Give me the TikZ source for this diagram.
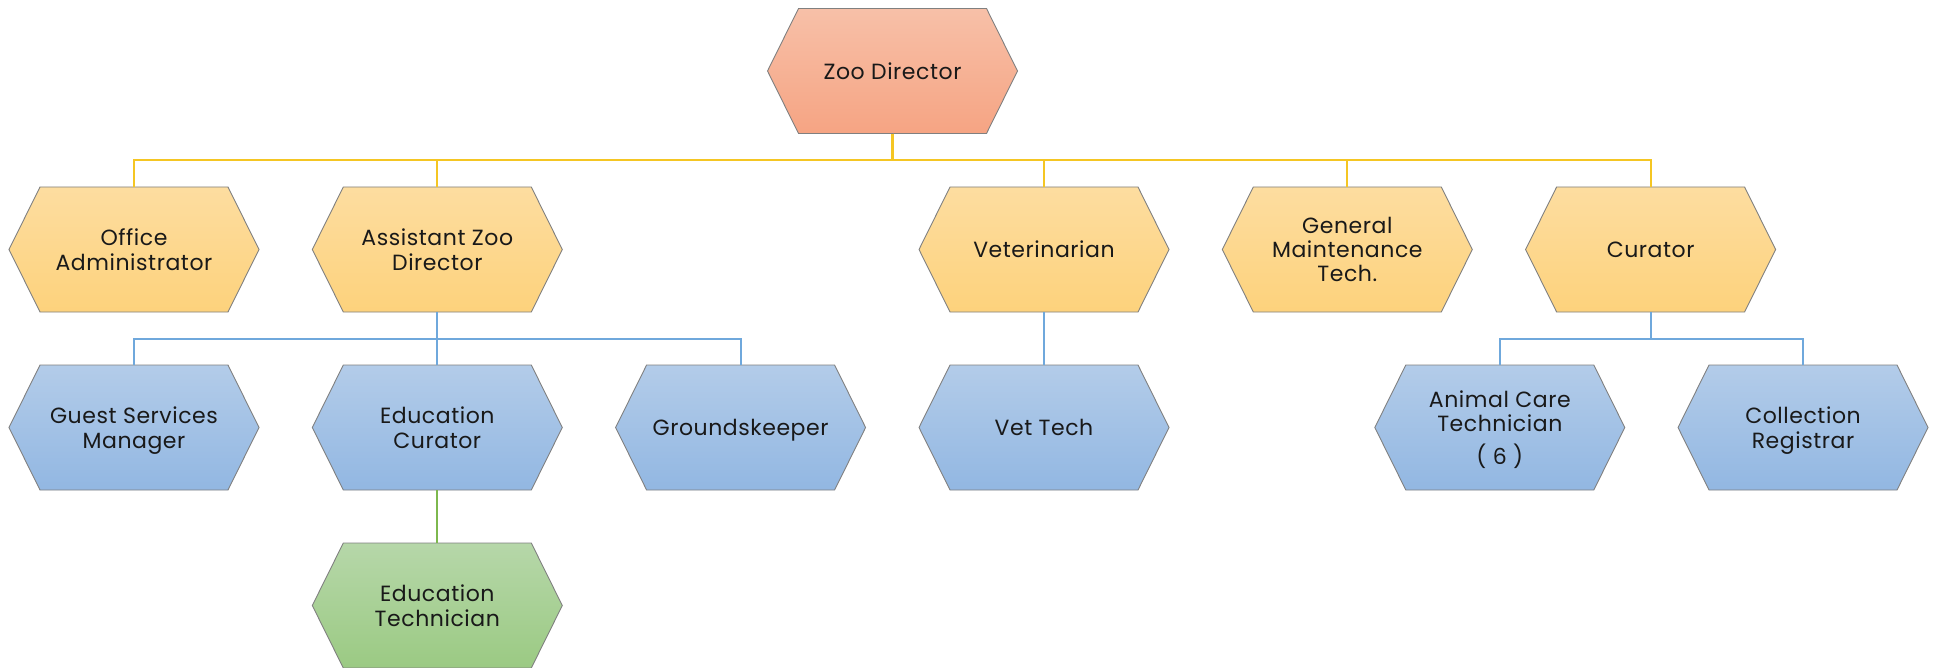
\documentclass[tikz,border=0pt]{standalone}
\usepackage{fontspec}
\setmainfont[LetterSpace=2.5]{Poppins}
\begin{document}
\begin{tikzpicture}[x=1pt,y=-1pt,
  lbl/.style={rectangle,minimum width=250pt,minimum height=125pt,inner sep=0pt,
    align=center,font=\fontsize{22}{24.3}\selectfont,text=black!90,
    text depth=0pt},
  hexedge/.style={draw=black!50,line width=0.9pt},
  red/.style={hexedge,top color=rtop,bottom color=rbot},
  ylw/.style={hexedge,top color=ytop,bottom color=ybot},
  blu/.style={hexedge,top color=btop,bottom color=bbot},
  grn/.style={hexedge,top color=gtop,bottom color=gbot},
  ylink/.style={draw=ylwline,line width=2.2pt},
  blink/.style={draw=bluline,line width=2.2pt},
  glink/.style={draw=grnline,line width=2pt}]
\definecolor{rtop}{HTML}{F7C0A8}
\definecolor{rbot}{HTML}{F6A483}
\definecolor{ytop}{HTML}{FDDDA0}
\definecolor{ybot}{HTML}{FDD27C}
\definecolor{btop}{HTML}{B3CCE9}
\definecolor{bbot}{HTML}{92B7E2}
\definecolor{gtop}{HTML}{B6D7A9}
\definecolor{gbot}{HTML}{9BCA83}
\definecolor{ylwline}{HTML}{F5C623}
\definecolor{bluline}{HTML}{6FA8DC}
\definecolor{grnline}{HTML}{7DB84E}
\useasboundingbox (0,0) rectangle (1935,668);
% hexagon box: name, x, y, fill style, text
\newcommand\hexbox[5]{%
  \path[#4] (#2-125,#3) -- (#2-94,#3-62.5) -- (#2+94,#3-62.5) -- (#2+125,#3)
    -- (#2+94,#3+62.5) -- (#2-94,#3+62.5) -- cycle;
  \node[lbl] (#1) at (#2,#3) {#5};}
% top
\hexbox{dir}{892.5}{71}{red}{Zoo Director}
% first level
\hexbox{off}{134}{249.5}{ylw}{Office\\Administrator}
\hexbox{asst}{437.3}{249.5}{ylw}{Assistant Zoo\\Director}
\hexbox{vet}{1044}{249.5}{ylw}{Veterinarian}
\hexbox{gmt}{1347.3}{249.5}{ylw}{General\\Maintenance\\Tech.}
\hexbox{cur}{1650.6}{249.5}{ylw}{Curator}
% second level
\hexbox{gsm}{134}{427.5}{blu}{Guest Services\\Manager}
\hexbox{educ}{437.3}{427.5}{blu}{Education\\Curator}
\hexbox{grd}{740.6}{427.5}{blu}{Groundskeeper}
\hexbox{vtech}{1044}{427.5}{blu}{Vet Tech}
\hexbox{act}{1499.8}{427.5}{blu}{Animal Care\\Technician\\[8pt]( 6 )}
\hexbox{reg}{1803}{427.5}{blu}{Collection\\Registrar}
% third level
\hexbox{edtech}{437.3}{605.5}{grn}{Education\\Technician}
% connectors
\foreach \c in {off,asst,vet,gmt,cur}
  \draw[ylink] (dir.south) -- ++(0,26.5) -| (\c.north);
\foreach \c in {gsm,educ,grd}
  \draw[blink] (asst.south) -- ++(0,27) -| (\c.north);
\draw[blink] (vet.south) -- (vtech.north);
\foreach \c in {act,reg}
  \draw[blink] (cur.south) -- ++(0,27) -| (\c.north);
\draw[glink] (educ.south) -- (edtech.north);
\end{tikzpicture}
\end{document}
